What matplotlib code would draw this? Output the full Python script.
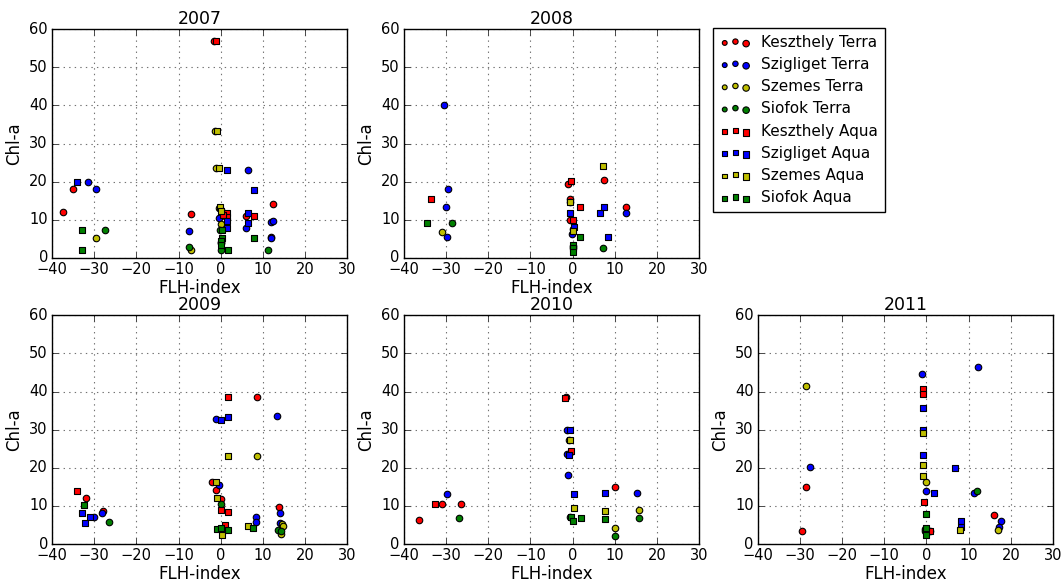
import numpy as np
import matplotlib
matplotlib.use("Agg")
import matplotlib.pyplot as plt
from matplotlib.legend_handler import HandlerPathCollection

plt.style.use("classic")

series = ["Keszthely Terra", "Szigliget Terra", "Szemes Terra", "Siofok Terra",
          "Keszthely Aqua", "Szigliget Aqua", "Szemes Aqua", "Siofok Aqua"]
colors = ["r", "b", "y", "g", "r", "b", "y", "g"]
markers = ["o", "o", "o", "o", "s", "s", "s", "s"]

# FLH-index (x) and Chl-a (y) per station/sensor
d2007 = {
    "Keszthely Terra": ([-37.5, -35, -7, 12.5, 6, 12, -1.5, 0], [12, 18, 11.6, 14.2, 11, 5.6, 57, 11]),
    "Szigliget Terra": ([-31.5, -29.5, -7.5, 6.5, 6, 12, 12.5, 12, -0.5], [20, 18, 7, 23, 7.8, 9.4, 9.8, 5.2, 10.5]),
    "Szemes Terra": ([-29.5, -7, -1.3, -1, -0.3, 0, 0.2], [5.2, 2.2, 33.3, 23.7, 13, 9, 12.5]),
    "Siofok Terra": ([-27.5, -7.5, 0, 11.3, -0.2, 0, 0.2], [7.4, 3, 2.2, 2.2, 7.3, 4.3, 3.8]),
    "Keszthely Aqua": ([-1.2, 1.5, 1.5, 8, 0.5], [57, 11.8, 10.8, 11, 11.2]),
    "Szigliget Aqua": ([-34, 1.5, 7.8, 6.5, 6.5, 1.5, 1.5], [20, 23, 17.8, 11.7, 9.2, 9.8, 7.8]),
    "Szemes Aqua": ([-0.8, -0.5, -0.2, 0], [33.3, 23.7, 13.3, 12.3]),
    "Siofok Aqua": ([-33, -33, 1.7, 7.8, 0.4, 0.3, 0.2, 0.2], [7.4, 2.2, 2.2, 5.3, 7.4, 5.2, 4.5, 3.5]),
}
d2008 = {
    "Keszthely Terra": ([-1, 7.5, 12.7, -0.5, -0.5], [19.3, 20.4, 13.4, 15.5, 10]),
    "Szigliget Terra": ([-30.5, -29.5, -30, -29.7, 12.7, -0.2], [40.2, 18, 13.4, 5.6, 11.9, 6.2]),
    "Szemes Terra": ([-31, -0.5, 0], [6.8, 14.6, 7.5]),
    "Siofok Terra": ([-28.5, 7.3, 0, 0], [9.3, 2.7, 3.2, 2.5]),
    "Keszthely Aqua": ([-33.5, -0.4, 1.8, 0.2], [15.6, 20.3, 13.3, 10]),
    "Szigliget Aqua": ([-0.7, 6.5, 7.5, 8.5, 0.4], [11.8, 11.8, 13.3, 5.4, 8]),
    "Szemes Aqua": ([7.2, -0.5, 0.2], [24.2, 14.8, 7.2]),
    "Siofok Aqua": ([-34.5, 1.8, 0.2, 0, 0], [9.3, 5.4, 3.5, 2.5, 1.5]),
}
d2009 = {
    "Keszthely Terra": ([-32, -28, -2, -1, 8.7, 13.8, 0], [12, 8.7, 16.4, 14.2, 38.6, 9.7, 11.7]),
    "Szigliget Terra": ([-30, -28.2, -1, 13.3, -0.5, 8.5, 8.5, 14.2, 14], [7, 8.2, 32.7, 33.5, 15.5, 7, 5.8, 8.2, 5.6]),
    "Szemes Terra": ([8.7, 14.5, 14.3, 14.7], [23, 5.2, 2.7, 4.8]),
    "Siofok Terra": ([-26.5, 0, 13.7, 14.3], [5.7, 10.5, 3.8, 3.3]),
    "Keszthely Aqua": ([-34, 1.8, 0.2, 1.8, 1], [14, 38.5, 9, 8.5, 5]),
    "Szigliget Aqua": ([-33, -32.3, -31, 0, 1.8], [8.1, 5.5, 7, 32.6, 33.3]),
    "Szemes Aqua": ([1.8, -1, -0.8, 0.3, 6.5], [23, 16.3, 12, 2.5, 4.7]),
    "Siofok Aqua": ([-32.5, -0.8, 1.8, 0.2, 7.7], [10.3, 4, 3.8, 4.2, 4.3]),
}
d2010 = {
    "Keszthely Terra": ([-36.5, -31, -26.5, -1.5, 10], [6.4, 10.5, 10.5, 38.5, 15]),
    "Szigliget Terra": ([-29.7, -1.3, -1.2, -1, 15.3], [13, 30, 23.5, 18, 13.4]),
    "Szemes Terra": ([-0.8, 15.7, 10], [27.3, 9, 4.1]),
    "Siofok Terra": ([-27, -0.7, 15.7, 10], [6.8, 7.1, 6.8, 2.2]),
    "Keszthely Aqua": ([-32.7, -1.8, -0.3], [10.4, 38.4, 24.5]),
    "Szigliget Aqua": ([-0.6, 0.3, 7.7, -0.9], [30, 13, 13.3, 23.4]),
    "Szemes Aqua": ([-0.5, 0.3, 7.8], [27.3, 9.5, 8.8]),
    "Siofok Aqua": ([-0.3, 0, 2, 7.6], [7.1, 6, 6.8, 6.7]),
}
d2011 = {
    "Keszthely Terra": ([-29.5, -28.7, 16, 0.8], [3.4, 15, 7.5, 3.5]),
    "Szigliget Terra": ([-27.7, -1, 12.2, 11.3, 17.6, 17.2, -0.2], [20.2, 44.5, 46.5, 13.4, 6, 4.6, 13.8]),
    "Szemes Terra": ([-28.7, -0.2, 16.9], [41.5, 16.3, 3.8]),
    "Siofok Terra": ([12, -0.3, -0.3], [13.8, 4, 3.5]),
    "Keszthely Aqua": ([-0.9, -0.8, -0.5, 0.8], [40.8, 39.3, 11.1, 3.5]),
    "Szigliget Aqua": ([-0.9, -0.9, -0.8, 6.7, 1.8, 8.1, 8.1], [35.8, 29.8, 23.4, 20, 13.3, 6, 4.5]),
    "Szemes Aqua": ([-0.9, -0.9, -0.8, 8], [29.2, 20.7, 17.8, 3.8]),
    "Siofok Aqua": ([-0.2, -0.1, -0.1], [7.8, 4.3, 2.5]),
}

years = ["2007", "2008", "2009", "2010", "2011"]
year_data = [d2007, d2008, d2009, d2010, d2011]

fig = plt.figure(figsize=(10.63, 5.85), dpi=100, facecolor="white")

# panel boxes (left, bottom) in figure fraction, top-right slot is the legend
lefts = [0.049, 0.380, 0.713]
slots = [(lefts[0], 0.559), (lefts[1], 0.559), (lefts[0], 0.070), (lefts[1], 0.070), (lefts[2], 0.070)]
w, h = 0.2775, 0.391

handles = []
for i, (yr, d) in enumerate(zip(years, year_data)):
    ax = fig.add_axes([slots[i][0], slots[i][1], w, h])
    for name, c, m in zip(series, colors, markers):
        xs, ys = d[name]
        sc = ax.scatter(xs, ys, c=c, marker=m, s=22, edgecolors="k", linewidths=0.8,
                        label=name, zorder=3)
        if i == 0:
            handles.append(sc)
    ax.set_xlim(-40, 30)
    ax.set_ylim(0, 60)
    ax.set_xticks(np.arange(-40, 31, 10))
    ax.set_yticks(np.arange(0, 61, 10))
    ax.grid(True, color="0.45", linestyle=":", linewidth=0.8)
    ax.set_axisbelow(True)
    ax.tick_params(labelsize=10.5, pad=3)
    ax.set_title(yr, fontsize=12.5, pad=4)
    ax.set_xlabel("FLH-index", fontsize=12, labelpad=1)
    ax.set_ylabel("Chl-a", fontsize=12, labelpad=4)

# old-style scatter legend: three dots of growing size
hmap = {hd: HandlerPathCollection(sizes=[12, 15, 22]) for hd in handles}
fig.legend(handles, series, loc="upper left", bbox_to_anchor=(0.671, 0.952),
           borderaxespad=0, scatterpoints=3, scatteryoffsets=[0.375, 0.5, 0.3125],
           handler_map=hmap, fontsize=11, frameon=True, fancybox=False,
           borderpad=0.45, labelspacing=0.47, handletextpad=0.7)

fig.savefig("out.png", dpi=100, facecolor="white")
